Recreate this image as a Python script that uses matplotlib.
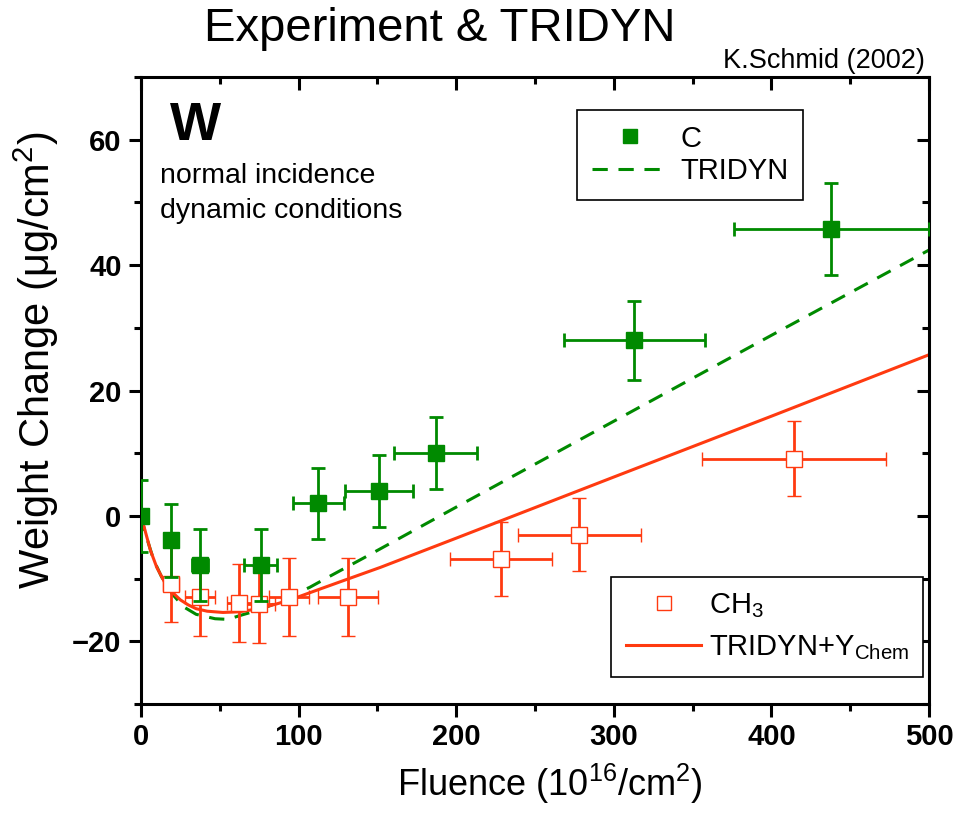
import numpy as np
import matplotlib
matplotlib.use("Agg")
import matplotlib.pyplot as plt
from matplotlib.lines import Line2D

plt.rcParams['font.family'] = ['Liberation Sans', 'DejaVu Sans']
plt.rcParams['mathtext.fontset'] = 'custom'
plt.rcParams['mathtext.rm'] = 'Liberation Sans'
plt.rcParams['mathtext.it'] = 'Liberation Sans'

GREEN = '#008a00'
RED = '#ff3a10'

# carbon deposit measurements (filled squares)
c_fluence = [0, 19, 37.4, 76, 112.5, 151, 187, 313, 438]
c_weight = [0, -3.9, -7.9, -7.9, 2.0, 4.0, 10.0, 28.0, 45.8]
c_xerr = [0, 2.7, 5.2, 10.6, 16, 21.5, 26.5, 44.7, 62]
c_yerr = [5.7, 5.8, 5.75, 5.75, 5.7, 5.7, 5.7, 6.3, 7.3]

# CH3 measurements (open squares)
ch3_fluence = [18.8, 37.4, 62.4, 75, 94, 131.6, 228.4, 278, 414.3]
ch3_weight = [-10.9, -12.9, -13.9, -14.1, -12.9, -12.9, -6.9, -3.0, 9.1]
ch3_xerr = [5, 9.5, 8, 10, 12.7, 19, 32.6, 39, 58.6]
ch3_yerr = [6.0, 6.2, 6.25, 6.1, 6.2, 6.2, 5.9, 5.85, 6.0]

# TRIDYN simulation
tri_fluence = [0, 3, 8, 13, 20, 27, 35, 47, 55, 64, 75, 86, 100, 107, 120, 141, 158, 200, 300, 400, 500]
tri_weight = [0, -3, -7, -9.7, -12.5, -14.5, -15.7, -16.4, -16.5, -15.8, -15, -13.9, -12.2, -11.4, -9.6, -6.75, -4.4, 1.4, 15.1, 28.8, 42.4]

# TRIDYN + chemical erosion yield
chem_fluence = [0, 2, 6, 10, 15, 20, 25, 30, 35, 42, 52, 62, 75, 88, 100, 111, 132, 152, 200, 300, 400, 500]
chem_weight = [0, -1.8, -5.5, -8.2, -10.6, -12.2, -13.4, -14.2, -14.8, -15.2, -15.4, -15.3, -14.8, -13.9, -12.9, -11.9, -10.0, -8.2, -3.55, 6.2, 15.9, 25.7]

fig = plt.figure(figsize=(9.72, 8.15), dpi=100)
ax = fig.add_axes([141 / 972, 1 - 704 / 815, 788 / 972, 627 / 815])

ax.plot(tri_fluence, tri_weight, color=GREEN, lw=2.2, ls=(0, (5, 3.5)), zorder=2)
ax.plot(chem_fluence, chem_weight, color=RED, lw=2.2, zorder=2)

ax.errorbar(ch3_fluence, ch3_weight, xerr=ch3_xerr, yerr=ch3_yerr, fmt='s', ms=12,
            mfc='white', mec=RED, mew=1, color=RED, elinewidth=2, capsize=5, capthick=2,
            zorder=3)
ax.errorbar(c_fluence, c_weight, xerr=c_xerr, yerr=c_yerr, fmt='s', ms=12,
            mfc=GREEN, mec=GREEN, color=GREEN, elinewidth=2, capsize=5, capthick=2,
            zorder=4)

ax.set_xlim(0, 500)
ax.set_ylim(-30, 70)
ax.set_xticks(np.arange(0, 501, 100))
ax.set_xticks(np.arange(50, 500, 100), minor=True)
ax.set_yticks([-20, 0, 20, 40, 60])
ax.set_yticks([-30, -10, 10, 30, 50, 70], minor=True)
ax.tick_params(which='both', direction='out', width=2.2)
ax.tick_params(which='major', length=9, pad=5)
ax.tick_params(which='minor', length=5)
for lab in ax.get_xticklabels() + ax.get_yticklabels():
    lab.set_fontweight('bold')
    lab.set_fontsize(21)
for sp in ax.spines.values():
    sp.set_linewidth(2.2)

# inward ticks on top and right
top = ax.secondary_xaxis('top')
top.set_xticks(np.arange(0, 501, 100))
top.set_xticks(np.arange(50, 500, 100), minor=True)
top.tick_params(which='both', direction='in', width=2.2, labeltop=False)
top.tick_params(which='major', length=9)
top.tick_params(which='minor', length=5)
right = ax.secondary_yaxis('right')
right.set_yticks([-20, 0, 20, 40, 60])
right.set_yticks([-30, -10, 10, 30, 50, 70], minor=True)
right.tick_params(which='both', direction='in', width=2.2, labelright=False)
right.tick_params(which='major', length=9)
right.tick_params(which='minor', length=5)

ax.set_xlabel('Fluence (10$^{16}$/cm$^2$)', fontsize=26)
ax.set_ylabel('Weight Change ($\\mu$g/cm$^2$)', fontsize=30)
ax.xaxis.set_label_coords(0.519, -0.092)
ax.yaxis.set_label_coords(-0.102, 0.549)

fig.text(440 / 972, 1 - 29 / 815, 'Experiment & TRIDYN', fontsize=34,
         ha='center', va='center')
fig.text(925 / 972, 1 - 68 / 815, 'K.Schmid (2002)', fontsize=19.5,
         ha='right', va='baseline')
fig.text(170 / 972, 1 - 140 / 815, 'W', fontsize=39, fontweight='bold',
         va='baseline')
fig.text(160 / 972, 1 - 183 / 815, 'normal incidence', fontsize=20.5, va='baseline')
fig.text(160 / 972, 1 - 218 / 815, 'dynamic conditions', fontsize=20.5, va='baseline')

h_c = Line2D([], [], ls='none', marker='s', ms=10, mfc=GREEN, mec=GREEN)
h_tri = Line2D([], [], color=GREEN, lw=2.2, ls=(0, (5, 3.5)))
leg1 = ax.legend([h_c, h_tri], ['C', 'TRIDYN'], loc='upper left',
                 bbox_to_anchor=(577 / 972, 1 - 110 / 815), bbox_transform=fig.transFigure,
                 fontsize=21, frameon=True, fancybox=False, edgecolor='black',
                 framealpha=1, handlelength=2.6, handletextpad=0.45, labelspacing=0.15,
                 borderpad=0.5, borderaxespad=0)
leg1.get_frame().set_linewidth(1.2)
ax.add_artist(leg1)

h_ch3 = Line2D([], [], ls='none', marker='s', ms=10, mfc='white', mec=RED, mew=1)
h_chem = Line2D([], [], color=RED, lw=2.2)
leg2 = ax.legend([h_ch3, h_chem], ['CH$_3$', 'TRIDYN+Y$_{Chem}$'], loc='upper left',
                 bbox_to_anchor=(611 / 972, 1 - 577 / 815), bbox_transform=fig.transFigure,
                 fontsize=21, frameon=True, fancybox=False, edgecolor='black',
                 framealpha=1, handlelength=2.6, handletextpad=0.25, labelspacing=0.45,
                 borderpad=0.5, borderaxespad=0)
leg2.get_frame().set_linewidth(1.2)

fig.savefig('out.png', dpi=100)
